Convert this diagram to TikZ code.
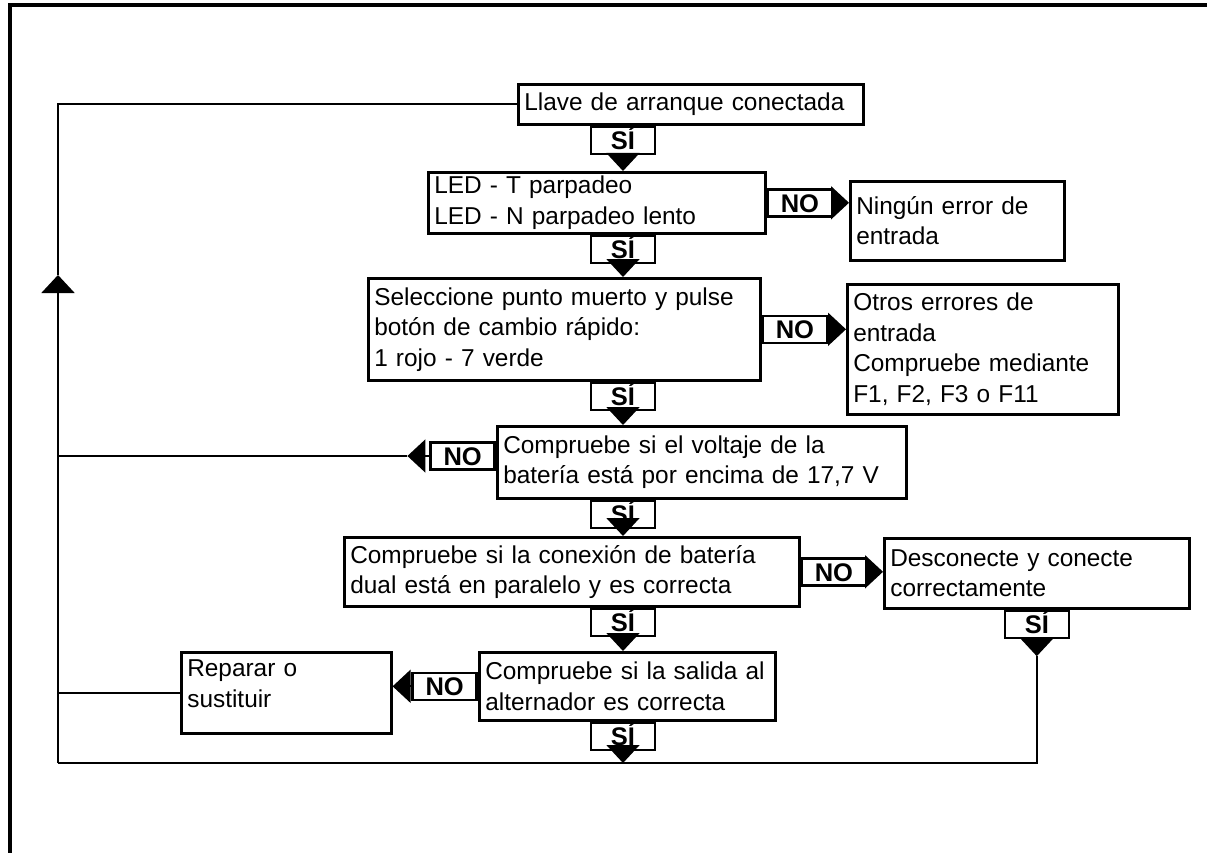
\documentclass[tikz,border=0pt]{standalone}
\usepackage{fontspec}
\setmainfont{Liberation Sans}
\usetikzlibrary{arrows.meta,positioning}

\tikzset{
  box/.style={draw, line width=2.6pt, anchor=north west, align=left, inner xsep=6pt, inner ysep=0pt, font=\fontsize{24.4}{30.5}\selectfont},
  tag/.style={draw, line width=2.6pt, minimum width=64pt, minimum height=27pt, inner sep=0pt, text height=18.5pt, text depth=0pt, font=\fontsize{25.5}{28}\selectfont\bfseries},
  flow/.style={line width=2pt},
  tip/.style={-{Triangle[width=33pt,length=18pt]}}
}

\begin{document}
\begin{tikzpicture}[x=1pt, y=-1pt]
\useasboundingbox (0,0) rectangle (1207,853);
\draw[line width=3.5pt] (10,853) -- (10,5) -- (1207,5);

\coordinate (col) at (623,0);
\coordinate (bl) at (58,763);
\coordinate (up) at (58,275);

\node[box, text width=333pt, minimum height=40pt] (llave) at (517,83) {Llave de arranque conectada};
\node[box, text width=325pt, minimum height=61pt] (led) at (427,171) {LED - T parpadeo\\LED - N parpadeo lento};
\node[box, text width=202pt, minimum height=79pt] (ningun) at (849,180) {Ningún error de\\entrada};
\node[box, text width=380pt, minimum height=102pt] (selecc) at (367,277) {Seleccione punto muerto y pulse\\botón de cambio rápido:\\1 rojo - 7 verde};
\node[box, text width=259pt, minimum height=130pt] (otros) at (846,283) {Otros errores de\\entrada\\Compruebe mediante\\F1, F2, F3 o F11};
\node[box, text width=397pt, minimum height=72pt] (voltaje) at (496,425) {Compruebe si el voltaje de la\\batería está por encima de 17,7 V};
\node[box, text width=443pt, minimum height=69pt] (conex) at (343,536) {Compruebe si la conexión de batería\\dual está en paralelo y es correcta};
\node[box, text width=293pt, minimum height=70pt] (descon) at (883,537) {Desconecte y conecte\\correctamente};
\node[box, text width=284pt, minimum height=68pt] (salida) at (478,651) {Compruebe si la salida al\\alternador es correcta};
\node[box, text width=198pt, minimum height=81pt, text depth=49pt] (reparar) at (180,651) {Reparar o\\sustituir};

\node[tag, anchor=north] (s1) at (llave.south -| col) {SÍ};
\node[tag, anchor=north] (s2) at (led.south -| col) {SÍ};
\node[tag, anchor=north] (s3) at (selecc.south -| col) {SÍ};
\node[tag, anchor=north] (s4) at (voltaje.south -| col) {SÍ};
\node[tag, anchor=north] (s5) at (conex.south -| col) {SÍ};
\node[tag, anchor=north] (s6) at (descon.south) {SÍ};
\node[tag, anchor=north] (s7) at (salida.south -| col) {SÍ};

\node[tag, right=0pt of led] (n1) {NO};
\node[tag, right=0pt of selecc] (n2) {NO};
\node[tag, anchor=east] (n3) at (496,456) {NO};
\node[tag, right=0pt of conex] (n4) {NO};
\node[tag, left=0pt of salida] (n5) {NO};

\draw[flow, tip] (s1.south) -- (s1.south |- led.north);
\draw[flow, tip] (s2.south) -- (s2.south |- selecc.north);
\draw[flow, tip] (s3.south) -- (s3.south |- voltaje.north);
\draw[flow, tip] (s4.south) -- (s4.south |- conex.north);
\draw[flow, tip] (s5.south) -- (s5.south |- salida.north);
\draw[flow, tip] (s7.south) -- (s7.south |- bl);
\draw[flow, tip] (s6.south) -- ++(0,17) coordinate (t6);
\draw[flow] (t6) -- (t6 |- bl) -- (bl);
\draw[flow, tip] (bl) -- (up);
\draw[flow] (up) -- (up |- llave.west) -- (llave.west);

\draw[flow, tip] (n1.east) -- (n1.east -| ningun.west);
\draw[flow, tip] (n2.east) -- (n2.east -| otros.west);
\draw[flow, tip] (n3.west) -- ++(-22,0) coordinate (t3);
\draw[flow] (t3) -- (t3 -| bl);
\draw[flow, tip] (n4.east) -- (n4.east -| descon.west);
\draw[flow, tip] (n5.west) -- (n5.west -| reparar.east);
\draw[flow] (reparar.west) -- (reparar.west -| bl);
\end{tikzpicture}
\end{document}
